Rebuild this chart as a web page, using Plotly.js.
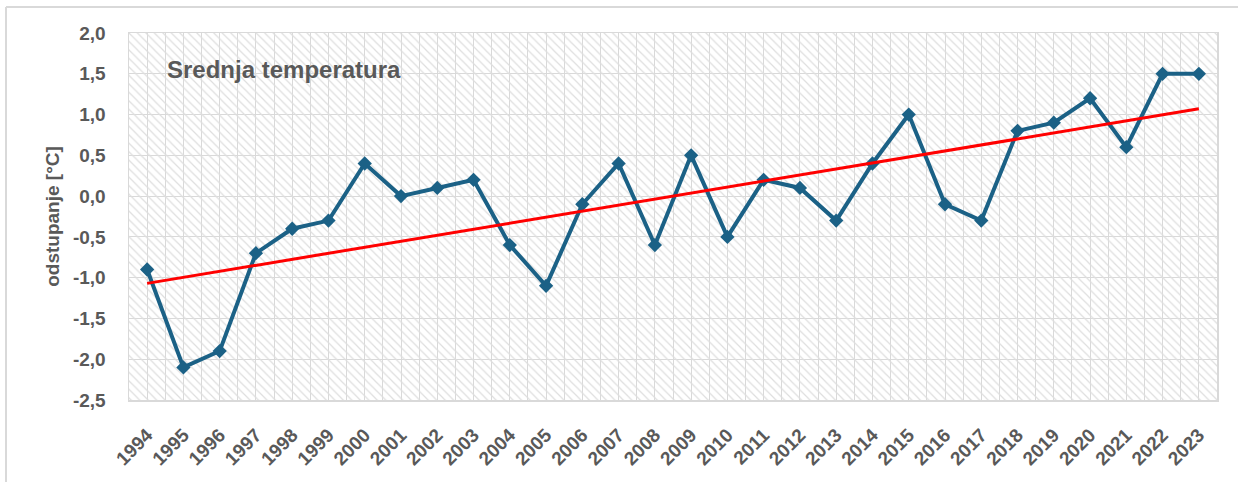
<!DOCTYPE html>
<html>
<head>
<meta charset="utf-8">
<script src="https://cdn.plot.ly/plotly-3.0.1.min.js"></script>
<style>
html,body{margin:0;padding:0;background:#fff;}
#chart{width:1238px;height:482px;}
</style>
</head>
<body>
<div id="chart"></div>
<script>
const years = ['1994','1995','1996','1997','1998','1999','2000','2001','2002','2003','2004','2005','2006','2007','2008','2009','2010','2011','2012','2013','2014','2015','2016','2017','2018','2019','2020','2021','2022','2023'];
const anomaly = [-0.9,-2.1,-1.9,-0.7,-0.4,-0.3,0.4,0.0,0.1,0.2,-0.6,-1.1,-0.1,0.4,-0.6,0.5,-0.5,0.2,0.1,-0.3,0.4,1.0,-0.1,-0.3,0.8,0.9,1.2,0.6,1.5,1.5];
const trendYears = ['1994','2023'];
const trendValues = [-1.07, 1.07];
const yTickVals = [-2.5,-2.0,-1.5,-1.0,-0.5,0.0,0.5,1.0,1.5,2.0];
const yTickText = ['-2,5','-2,0','-1,5','-1,0','-0,5','0,0','0,5','1,0','1,5','2,0'];
const yRange = [-2.5, 2.0];
const chartTitle = 'Srednja temperatura';
const yTitle = 'odstupanje [°C]';

// category positions on a linear axis (index of each year)
const idx = y => years.indexOf(y);
const xPos = years.map(idx);
const xMin = -0.5, xMax = years.length - 0.5;

const W = 1238, H = 482;
const M = {l:129, r:21, t:33, b:82};
const pw = W - M.l - M.r, ph = H - M.t - M.b;
const txt = '#595959';
const font = 'Liberation Sans, Arial, sans-serif';

const traces = [
  { // hatched plot-area background
    x:[xMin,xMax,xMax,xMin,xMin], y:[yRange[0],yRange[0],yRange[1],yRange[1],yRange[0]],
    mode:'lines', line:{width:0},
    fill:'toself', fillcolor:'rgba(0,0,0,0)',
    fillpattern:{shape:'\\', fgcolor:'#dedede', bgcolor:'rgba(0,0,0,0)', size:6, solidity:0.2},
    hoverinfo:'skip', showlegend:false
  },
  {
    x: xPos, y: anomaly, type:'scatter', mode:'lines+markers',
    line:{color:'#1b6186', width:4},
    marker:{symbol:'diamond', size:11, color:'#1b6186'},
    showlegend:false
  },
  {
    x: trendYears.map(idx), y: trendValues, type:'scatter', mode:'lines',
    line:{color:'#ff0000', width:3},
    showlegend:false
  }
];

const layout = {
  width:W, height:H,
  margin:M,
  paper_bgcolor:'#ffffff',
  plot_bgcolor:'#ffffff',
  font:{family:font, color:txt},
  xaxis:{
    type:'linear', range:[xMin, xMax],
    tickmode:'array', tickvals:xPos, ticktext:years,
    showgrid:true, gridcolor:'#d9d9d9', gridwidth:1,
    minor:{tickmode:'linear', tick0:-0.5, dtick:1, showgrid:true, gridcolor:'#d9d9d9', gridwidth:1, ticks:''},
    zeroline:false,
    showline:true, linecolor:'#d9d9d9', linewidth:1.5, mirror:true,
    ticks:'outside', ticklen:15, tickcolor:'rgba(0,0,0,0)',
    tickangle:-45,
    tickfont:{family:font, size:19, color:txt, weight:'bold'}
  },
  yaxis:{
    range:yRange, tickmode:'array', tickvals:yTickVals, ticktext:yTickText,
    showgrid:true, gridcolor:'#d9d9d9', gridwidth:1,
    zeroline:false,
    showline:true, linecolor:'#d9d9d9', linewidth:1.5, mirror:true,
    ticks:'outside', ticklen:18, tickcolor:'rgba(0,0,0,0)',
    tickfont:{family:font, size:19, color:txt, weight:'bold'},
    title:{text:yTitle, standoff:8, font:{family:font, size:19, color:txt, weight:'bold'}}
  },
  annotations:[{
    text:chartTitle, showarrow:false,
    xref:'paper', yref:'paper',
    x:(165-M.l)/pw, y:1-(69-M.t)/ph,
    xanchor:'left', yanchor:'middle',
    font:{family:font, size:24, color:txt, weight:'bold'}
  }],
  shapes:[
    {type:'line', xref:'paper', yref:'paper',
     x0:(6-M.l)/pw, x1:(6-M.l)/pw, y0:-1, y1:1+(M.t-7)/ph,
     line:{color:'#d9d9d9', width:2}, layer:'below'},
    {type:'line', xref:'paper', yref:'paper',
     x0:(6-M.l)/pw, x1:1.2, y0:1+(M.t-7)/ph, y1:1+(M.t-7)/ph,
     line:{color:'#d9d9d9', width:2}, layer:'below'}
  ]
};

Plotly.newPlot('chart', traces, layout, {displayModeBar:false, staticPlot:true});
</script>
</body>
</html>
